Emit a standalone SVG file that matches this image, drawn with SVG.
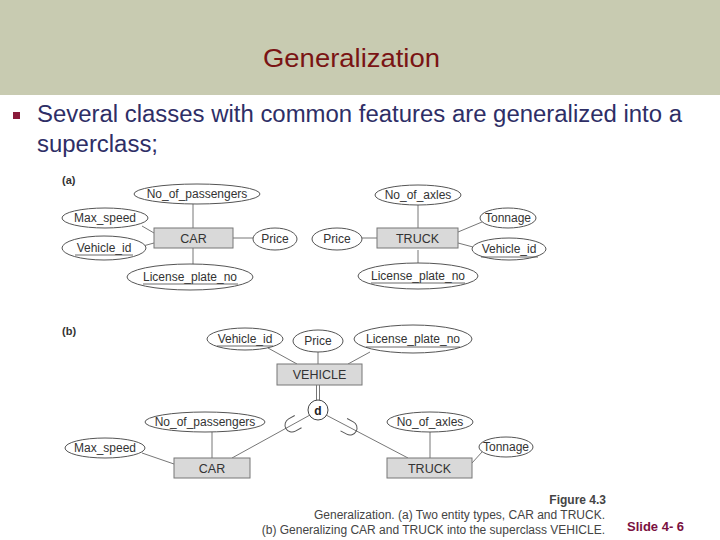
<svg xmlns="http://www.w3.org/2000/svg" width="720" height="540" viewBox="0 0 720 540">
<style>
.attr{fill:#fff;stroke:#555;stroke-width:1}
.ent{fill:#d9d9d9;stroke:#777;stroke-width:1}
.t{font-family:"Liberation Sans",Arial,sans-serif;font-size:12px;fill:#333;text-anchor:middle}
.te{font-family:"Liberation Sans",Arial,sans-serif;font-size:12.5px;fill:#333;text-anchor:middle}
.ul{stroke:#444;stroke-width:0.8}
.ln{stroke:#777;stroke-width:1;fill:none}
.cap{font-family:"Liberation Sans",Arial,sans-serif;font-size:12px;fill:#444;text-anchor:end}
.bul{font-family:"Liberation Sans",Arial,sans-serif;font-size:23px;fill:#2e2e66}
</style>
<defs>
<path id="cup" d="M -7,-7 L 0,-7 A 7 7 0 0 1 0,7 L -7,7" fill="none" stroke="#555" stroke-width="1"/>
</defs>
<rect x="0" y="0" width="720" height="95" fill="#c8cbb1"/>
<text x="263" y="67" font-family="Liberation Sans,Arial,sans-serif" font-size="26.5" fill="#7a1414" textLength="177" lengthAdjust="spacingAndGlyphs">Generalization</text>
<rect x="13" y="112" width="7" height="7" fill="#8a1a3a"/>
<text class="bul" x="37" y="122" textLength="645" lengthAdjust="spacingAndGlyphs">Several classes with common features are generalized into a</text>
<text class="bul" x="37" y="152" textLength="121" lengthAdjust="spacingAndGlyphs">superclass;</text>

<text x="62" y="184" font-family="Liberation Sans,Arial,sans-serif" font-size="11" font-weight="bold" fill="#333">(a)</text>
<text x="62" y="335" font-family="Liberation Sans,Arial,sans-serif" font-size="11" font-weight="bold" fill="#333">(b)</text>

<g id="connectors">
<line class="ln" x1="193" y1="204" x2="193" y2="228"/>
<line class="ln" x1="142" y1="226" x2="154" y2="233"/>
<line class="ln" x1="143" y1="246" x2="154" y2="243"/>
<line class="ln" x1="233" y1="238" x2="253" y2="238"/>
<line class="ln" x1="193" y1="248" x2="193" y2="265"/>
<line class="ln" x1="362" y1="238" x2="377" y2="238"/>
<line class="ln" x1="418" y1="205" x2="418" y2="228"/>
<line class="ln" x1="458" y1="232" x2="482" y2="222"/>
<line class="ln" x1="458" y1="243" x2="473" y2="247"/>
<line class="ln" x1="418" y1="250" x2="418" y2="263"/>
<line class="ln" x1="268" y1="348" x2="297" y2="364"/>
<line class="ln" x1="318" y1="352" x2="318" y2="364"/>
<line class="ln" x1="370" y1="352" x2="348" y2="364"/>
<line class="ln" x1="316.5" y1="385" x2="316.5" y2="400"/>
<line class="ln" x1="319.5" y1="385" x2="319.5" y2="400"/>
<line class="ln" x1="310" y1="415" x2="232" y2="458"/>
<line class="ln" x1="326" y1="415" x2="408" y2="458"/>
<use href="#cup" transform="translate(292,425) rotate(151)"/>
<use href="#cup" transform="translate(350,428) rotate(28)"/>
<line class="ln" x1="212" y1="432" x2="212" y2="458"/>
<line class="ln" x1="142" y1="453" x2="174" y2="464"/>
<line class="ln" x1="430" y1="432" x2="430" y2="458"/>
<line class="ln" x1="472" y1="463" x2="482" y2="452"/>
</g>

<g id="car-a"><rect class="ent" x="154" y="228" width="79" height="20"/><text class="te" x="193.5" y="242.5">CAR</text></g>
<g id="a-nop"><ellipse class="attr" cx="197" cy="194" rx="63" ry="10"/><text class="t" x="197" y="198">No_of_passengers</text></g>
<g id="a-maxspeed"><ellipse class="attr" cx="105" cy="218" rx="43" ry="10"/><text class="t" x="105" y="222">Max_speed</text></g>
<g id="a-vid"><ellipse class="attr" cx="104" cy="248" rx="42" ry="12"/><text class="t" x="104" y="252">Vehicle_id</text><line class="ul" x1="75" y1="255" x2="133" y2="255"/></g>
<g id="a-price1"><ellipse class="attr" cx="275" cy="239" rx="22" ry="11"/><text class="t" x="275" y="243">Price</text></g>
<g id="a-lpn"><ellipse class="attr" cx="190" cy="277" rx="63" ry="13"/><text class="t" x="190" y="281">License_plate_no</text><line class="ul" x1="143" y1="284" x2="238" y2="284"/></g>

<g id="truck-a"><rect class="ent" x="377" y="228" width="81" height="20"/><text class="te" x="417.5" y="242.5">TRUCK</text></g>
<g id="a-price2"><ellipse class="attr" cx="337" cy="239" rx="25" ry="11"/><text class="t" x="337" y="243">Price</text></g>
<g id="a-noa"><ellipse class="attr" cx="418" cy="195" rx="43" ry="10"/><text class="t" x="418" y="199">No_of_axles</text></g>
<g id="a-tonnage"><ellipse class="attr" cx="508" cy="218" rx="28" ry="10"/><text class="t" x="508" y="222">Tonnage</text></g>
<g id="a-vid2"><ellipse class="attr" cx="509" cy="249" rx="37" ry="11"/><text class="t" x="509" y="253">Vehicle_id</text><line class="ul" x1="481" y1="257" x2="538" y2="257"/></g>
<g id="a-lpn2"><ellipse class="attr" cx="418" cy="276" rx="60" ry="13"/><text class="t" x="418" y="280">License_plate_no</text><line class="ul" x1="371" y1="283" x2="465" y2="283"/></g>

<g id="vehicle"><rect class="ent" x="277" y="364" width="85" height="21"/><text class="te" x="319.5" y="379">VEHICLE</text></g>
<g id="b-vid"><ellipse class="attr" cx="245" cy="339" rx="38" ry="11"/><text class="t" x="245" y="343">Vehicle_id</text><line class="ul" x1="217" y1="346" x2="273" y2="346"/></g>
<g id="b-price"><ellipse class="attr" cx="318" cy="341" rx="25" ry="11"/><text class="t" x="318" y="345">Price</text></g>
<g id="b-lpn"><ellipse class="attr" cx="413" cy="339" rx="59" ry="14"/><text class="t" x="413" y="343">License_plate_no</text><line class="ul" x1="366" y1="347" x2="460" y2="347"/></g>
<g id="d"><circle cx="318" cy="410" r="10" fill="#fff" stroke="#444" stroke-width="1"/><text x="318" y="414.5" font-family="Liberation Sans,Arial,sans-serif" font-size="12" font-weight="bold" fill="#222" text-anchor="middle">d</text></g>
<g id="car-b"><rect class="ent" x="174" y="458" width="76" height="20"/><text class="te" x="212" y="472.5">CAR</text></g>
<g id="b-nop"><ellipse class="attr" cx="205" cy="422" rx="60" ry="10"/><text class="t" x="205" y="426">No_of_passengers</text></g>
<g id="b-maxspeed"><ellipse class="attr" cx="105" cy="448" rx="40" ry="10"/><text class="t" x="105" y="452">Max_speed</text></g>
<g id="truck-b"><rect class="ent" x="387" y="458" width="85" height="20"/><text class="te" x="429.5" y="472.5">TRUCK</text></g>
<g id="b-noa"><ellipse class="attr" cx="430" cy="422" rx="43" ry="10"/><text class="t" x="430" y="426">No_of_axles</text></g>
<g id="b-tonnage"><ellipse class="attr" cx="506" cy="447" rx="27" ry="10"/><text class="t" x="506" y="451">Tonnage</text></g>

<text class="cap" x="606" y="504" font-weight="bold" font-size="12" fill="#222">Figure 4.3</text>
<text class="cap" x="605" y="519">Generalization. (a) Two entity types, CAR and TRUCK.</text>
<text class="cap" x="605" y="534">(b) Generalizing CAR and TRUCK into the superclass VEHICLE.</text>
<text x="627" y="531" font-family="Liberation Sans,Arial,sans-serif" font-size="13" font-weight="bold" fill="#7a1040">Slide 4- 6</text>
</svg>
